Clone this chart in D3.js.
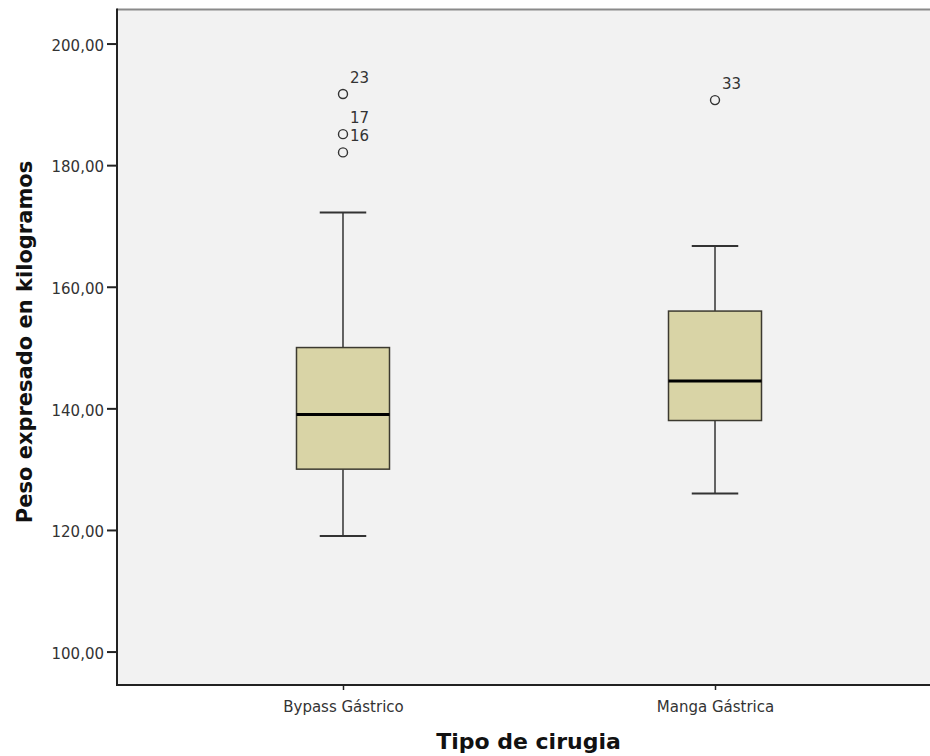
<!DOCTYPE html>
<html>
<head>
<meta charset="utf-8">
<script src="https://cdn.jsdelivr.net/npm/d3@7"></script>
<style>
  html, body { margin: 0; padding: 0; background: #ffffff; }
  svg { display: block; }
</style>
</head>
<body>
<svg id="chart" width="930" height="756"></svg>
<script>
// ---- Data ----
const categories   = ["Bypass Gástrico", "Manga Gástrica"];
const whiskerLow   = [119.0, 126.0];
const q1           = [130.0, 138.0];
const median       = [139.0, 144.5];
const q3           = [150.0, 156.0];
const whiskerHigh  = [172.2, 166.7];

const outlierGroup = ["Bypass Gástrico", "Bypass Gástrico", "Bypass Gástrico", "Manga Gástrica"];
const outlierValue = [191.7, 185.1, 182.1, 190.7];
const outlierLabel = ["23", "17", "16", "33"];

const yTicks = [100, 120, 140, 160, 180, 200];
const xTitle = "Tipo de cirugia";
const yTitle = "Peso expresado en kilogramos";

// ---- Layout ----
const W = 930, H = 756;
const plot = { left: 117, top: 9.5, right: 930, bottom: 685 };

const svg = d3.select("#chart");

const y = d3.scaleLinear().domain([94.5, 205.6]).range([plot.bottom, plot.top]);
const x = d3.scalePoint().domain(categories).range([plot.left, 941]).padding(0.6075);
const step = x.step();
const boxW = step * 0.25;
const capW = boxW * 0.5;

const fmt = v => d3.format(".2f")(v).replace(".", ",");

// plot background
svg.append("rect")
  .attr("x", plot.left).attr("y", plot.top)
  .attr("width", plot.right - plot.left).attr("height", plot.bottom - plot.top)
  .attr("fill", "#f2f2f2");

// top border
svg.append("line")
  .attr("x1", plot.left).attr("x2", plot.right)
  .attr("y1", plot.top).attr("y2", plot.top)
  .attr("stroke", "#8a8a8a").attr("stroke-width", 2);

const data = categories.map((c, i) => ({
  cat: c, lo: whiskerLow[i], q1: q1[i], med: median[i], q3: q3[i], hi: whiskerHigh[i]
}));

const g = svg.append("g");
const lineCol = "#333333";

// whiskers (vertical)
g.selectAll(".whisk-lo").data(data).join("line")
  .attr("x1", d => x(d.cat)).attr("x2", d => x(d.cat))
  .attr("y1", d => y(d.lo)).attr("y2", d => y(d.q1))
  .attr("stroke", lineCol).attr("stroke-width", 1.5);
g.selectAll(".whisk-hi").data(data).join("line")
  .attr("x1", d => x(d.cat)).attr("x2", d => x(d.cat))
  .attr("y1", d => y(d.hi)).attr("y2", d => y(d.q3))
  .attr("stroke", lineCol).attr("stroke-width", 1.5);

// caps
g.selectAll(".cap-lo").data(data).join("line")
  .attr("x1", d => x(d.cat) - capW / 2).attr("x2", d => x(d.cat) + capW / 2)
  .attr("y1", d => y(d.lo)).attr("y2", d => y(d.lo))
  .attr("stroke", lineCol).attr("stroke-width", 2);
g.selectAll(".cap-hi").data(data).join("line")
  .attr("x1", d => x(d.cat) - capW / 2).attr("x2", d => x(d.cat) + capW / 2)
  .attr("y1", d => y(d.hi)).attr("y2", d => y(d.hi))
  .attr("stroke", lineCol).attr("stroke-width", 2);

// boxes
g.selectAll(".box").data(data).join("rect")
  .attr("x", d => x(d.cat) - boxW / 2).attr("width", boxW)
  .attr("y", d => y(d.q3)).attr("height", d => y(d.q1) - y(d.q3))
  .attr("fill", "#d9d4a6").attr("stroke", "#3c3a30").attr("stroke-width", 1.5);

// medians
g.selectAll(".med").data(data).join("line")
  .attr("x1", d => x(d.cat) - boxW / 2).attr("x2", d => x(d.cat) + boxW / 2)
  .attr("y1", d => y(d.med)).attr("y2", d => y(d.med))
  .attr("stroke", "#000000").attr("stroke-width", 3);

// outliers
const outs = outlierValue.map((v, i) => ({ cat: outlierGroup[i], v, lab: outlierLabel[i] }));
g.selectAll(".out").data(outs).join("circle")
  .attr("cx", d => x(d.cat)).attr("cy", d => y(d.v)).attr("r", 4.5)
  .attr("fill", "none").attr("stroke", "#333333").attr("stroke-width", 1.4);
g.selectAll(".outlab").data(outs).join("text")
  .attr("x", d => x(d.cat) + 7).attr("y", d => y(d.v) - 11)
  .attr("font-family", "DejaVu Sans, sans-serif").attr("font-size", 15)
  .attr("fill", "#333333")
  .text(d => d.lab);

// y axis
const yAxis = d3.axisLeft(y).tickValues(yTicks).tickFormat(fmt).tickSize(10).tickPadding(3);
const yg = svg.append("g").attr("transform", `translate(${plot.left},0)`).call(yAxis);
yg.select(".domain").remove();
yg.selectAll(".tick line").attr("stroke", "#222").attr("stroke-width", 2);
yg.selectAll(".tick text")
  .attr("font-family", "DejaVu Sans, sans-serif").attr("font-size", 15)
  .attr("fill", "#333").attr("dy", "0.45em");
svg.append("line")
  .attr("x1", plot.left).attr("x2", plot.left)
  .attr("y1", plot.top - 1).attr("y2", plot.bottom + 1)
  .attr("stroke", "#222").attr("stroke-width", 2);

// x axis
const xAxis = d3.axisBottom(x).tickSize(5).tickPadding(11);
const xg = svg.append("g").attr("transform", `translate(0,${plot.bottom})`).call(xAxis);
xg.select(".domain").remove();
xg.selectAll(".tick line").attr("stroke", "#222").attr("stroke-width", 1.5);
xg.selectAll(".tick text")
  .attr("font-family", "DejaVu Sans, sans-serif").attr("font-size", 15)
  .attr("fill", "#333");
svg.append("line")
  .attr("x1", plot.left - 1).attr("x2", plot.right)
  .attr("y1", plot.bottom).attr("y2", plot.bottom)
  .attr("stroke", "#222").attr("stroke-width", 2);

// axis titles
svg.append("text")
  .attr("x", (plot.left + plot.right) / 2 + 5).attr("y", 749)
  .attr("text-anchor", "middle")
  .attr("font-family", "DejaVu Sans, sans-serif").attr("font-size", 22).attr("font-weight", "bold")
  .attr("fill", "#111")
  .text(xTitle);

svg.append("text")
  .attr("transform", `translate(32,342) rotate(-90)`)
  .attr("text-anchor", "middle")
  .attr("font-family", "DejaVu Sans, sans-serif").attr("font-size", 21).attr("font-weight", "bold")
  .attr("fill", "#111")
  .text(yTitle);
</script>
</body>
</html>
